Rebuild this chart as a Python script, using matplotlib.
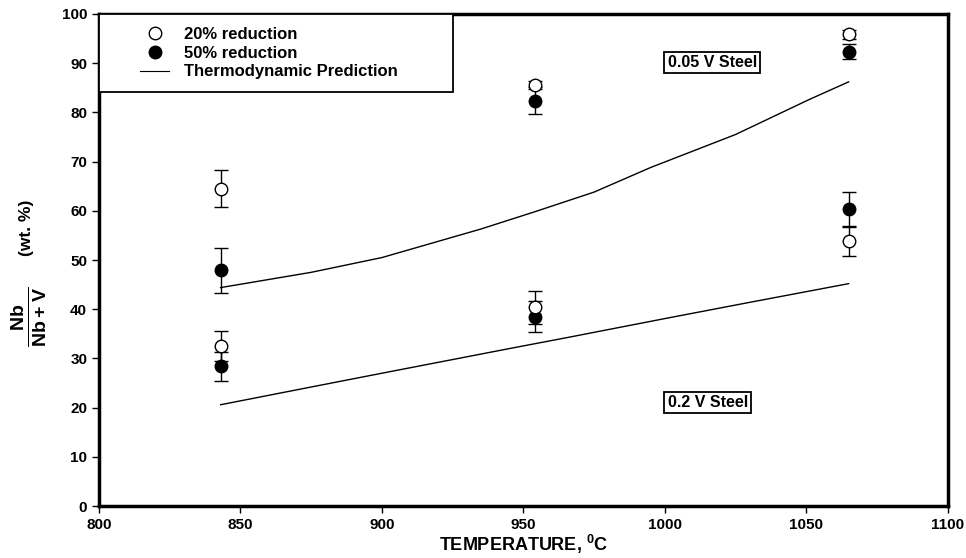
import matplotlib
matplotlib.use("Agg")
import matplotlib.pyplot as plt
from matplotlib.patches import Rectangle
from matplotlib.lines import Line2D

plt.rcParams['font.family'] = ['Liberation Sans', 'DejaVu Sans']
plt.rcParams['font.weight'] = 'bold'
plt.rcParams['mathtext.fontset'] = 'custom'
plt.rcParams['mathtext.rm'] = 'Liberation Sans'
plt.rcParams['mathtext.bf'] = 'Liberation Sans:bold'

# data
temps = [843, 954, 1065]
red20_high = [64.5, 85.6, 95.9]
red20_high_err = [3.7, 0.8, 0.9]
red20_low = [32.5, 40.4, 53.8]
red20_low_err = [3.0, 3.4, 2.9]
red50_high = [47.9, 82.4, 92.3]
red50_high_err = [4.5, 2.7, 1.5]
red50_low = [28.4, 38.5, 60.4]
red50_low_err = [3.0, 3.2, 3.5]

thermo_T = [843, 875, 900, 935, 954, 975, 995, 1025, 1051, 1065]
thermo_005V = [44.4, 47.5, 50.5, 56.3, 59.8, 63.8, 68.8, 75.5, 82.6, 86.2]
thermo_02V_T = [843, 875, 900, 945, 966, 1000, 1030, 1065]
thermo_02V = [20.6, 24.2, 27.0, 32.0, 34.3, 38.1, 41.4, 45.2]

xticks = [800, 850, 900, 950, 1000, 1050, 1100]
yticks = list(range(0, 101, 10))

fig = plt.figure(figsize=(9.66, 5.58), dpi=100)
ax = fig.add_axes([0.1025, 0.093, 0.8785, 0.882])

ax.plot(thermo_T, thermo_005V, color='black', lw=1.0)
ax.plot(thermo_02V_T, thermo_02V, color='black', lw=1.0)

ekw = dict(fmt='none', ecolor='black', elinewidth=1.0, capsize=5, capthick=1.0)
for vals, errs in [(red20_high, red20_high_err), (red20_low, red20_low_err),
                   (red50_high, red50_high_err), (red50_low, red50_low_err)]:
    ax.errorbar(temps, vals, yerr=errs, **ekw)

ms = 9
for vals in (red50_high, red50_low):
    ax.plot(temps, vals, 'o', ms=ms, mfc='black', mec='black', zorder=4)
for vals in (red20_high, red20_low):
    ax.plot(temps, vals, 'o', ms=ms, mfc='white', mec='black', mew=1.0, zorder=5)

ax.set_xlim(800, 1100)
ax.set_ylim(0, 100)
ax.set_xticks(xticks)
ax.set_yticks(yticks)
ax.tick_params(axis='both', labelsize=11, width=1.0, length=5, direction='out')
for lab in ax.get_xticklabels() + ax.get_yticklabels():
    lab.set_fontweight('bold')
for sp in ax.spines.values():
    sp.set_linewidth(2.5)

ax.set_xlabel('TEMPERATURE, $\\mathregular{^{0}}$C', fontsize=13, fontweight='bold', labelpad=1)
fig.text(0.030, 0.432, r'$\mathbf{\frac{Nb}{Nb+V}}$', rotation=90, fontsize=20,
         ha='center', va='center')
fig.text(0.027, 0.591, '(wt. %)', rotation=90, fontsize=12.5, fontweight='bold',
         ha='center', va='center')

# annotations
bbox = dict(boxstyle='square,pad=0.2', fc='white', ec='black', lw=1.3)
ax.text(1001, 90.1, '0.05 V Steel', fontsize=11.5, fontweight='bold', ha='left', va='center', bbox=bbox)
ax.text(1001, 21.1, '0.2 V Steel', fontsize=11.5, fontweight='bold', ha='left', va='center', bbox=bbox)

# legend
ax.add_patch(Rectangle((0, 1 - 0.159), 0.417, 0.159, transform=ax.transAxes,
                       fc='white', ec='black', lw=1.3, zorder=6))
handles = [Line2D([], [], marker='o', ls='none', ms=ms, mfc='white', mec='black'),
           Line2D([], [], marker='o', ls='none', ms=ms, mfc='black', mec='black'),
           Line2D([], [], color='black', lw=0.8)]
labels = ['20% reduction', '50% reduction', 'Thermodynamic Prediction']
leg = ax.legend(handles, labels, loc='upper left', bbox_to_anchor=(0.041, 0.987),
                frameon=False, fontsize=12, handlelength=1.7, handletextpad=0.9,
                labelspacing=0.22, borderaxespad=0)
leg.set_zorder(7)
for t in leg.get_texts():
    t.set_fontweight('bold')

fig.savefig('out.png', dpi=100)
